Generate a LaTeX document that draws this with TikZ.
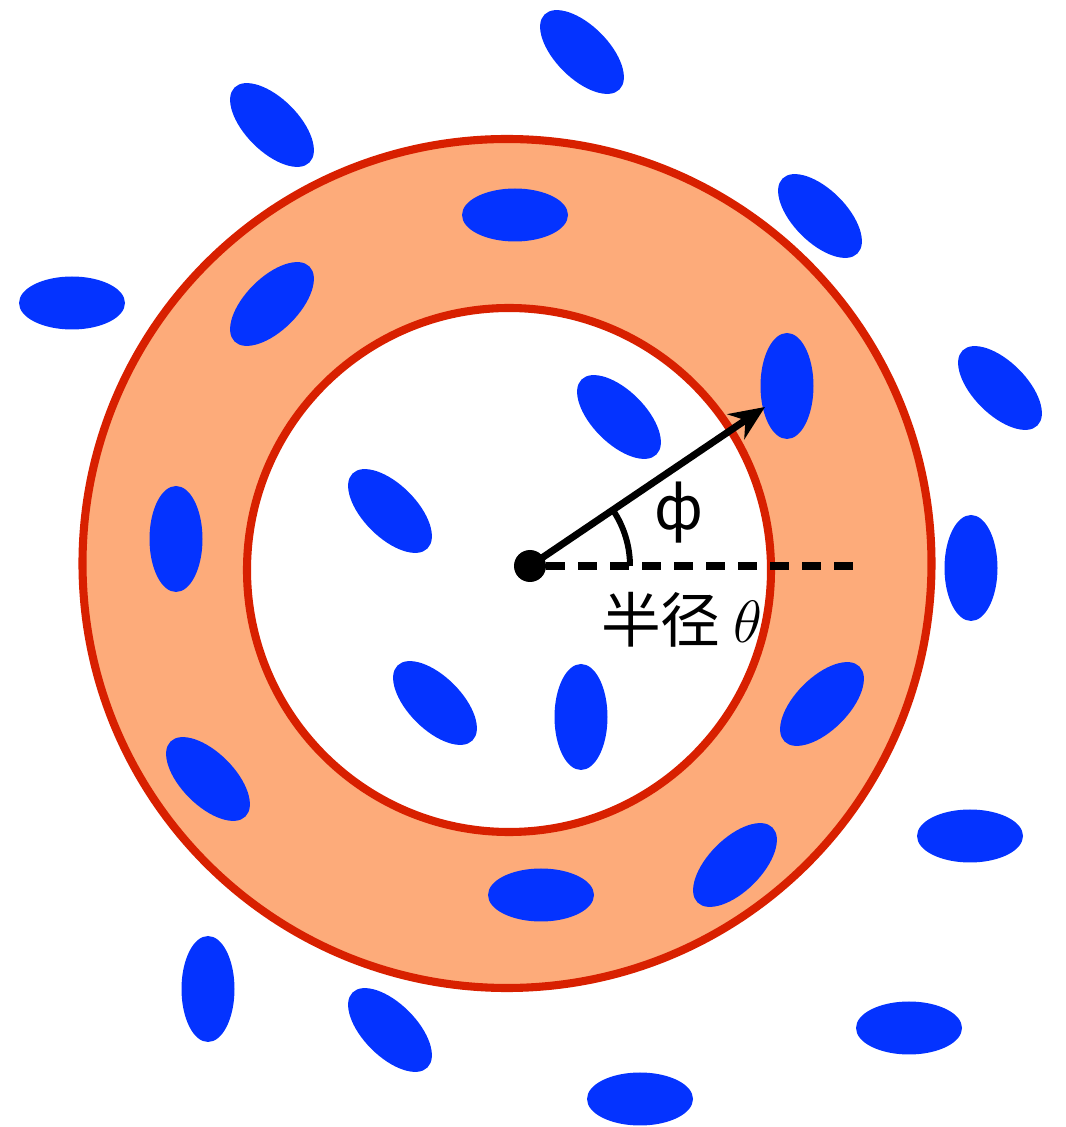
\RequirePackage{fix-cm}
\documentclass[tikz,border=0pt]{standalone}
\usepackage{fontspec}
\newfontfamily\cjk{Noto Sans CJK SC}
\usepackage{tikz}
\usetikzlibrary{arrows.meta,calc,positioning}
\definecolor{rred}{HTML}{D82000}
\definecolor{rorange}{HTML}{FDAB7A}
\definecolor{rblue}{HTML}{0433FF}
\tikzset{
  >={Stealth[length=7mm,width=6mm]},
  rring/.style={draw=rred, line width=4.6pt},
  rblob/.style={fill=rblue, draw=none},
  rdot/.style={circle, fill=black, minimum size=6.4mm, inner sep=0pt},
  rvec/.style={->, black, line width=4pt},
  rguide/.style={black, line width=4pt, dash pattern=on 3.8mm off 2.6mm},
  rarc/.style={black, line width=3.4pt},
  rlbl/.style={font=\cjk\fontsize{34}{40}\selectfont, inner sep=0pt},
}

\begin{document}
\begin{tikzpicture}[x=0.02cm,y=0.02cm]
  \useasboundingbox (0,0) rectangle (1066,1127);

  % ring
  \fill[rorange] (507,563.5) circle (424.5);
  \fill[white] (509,557) circle (262);
  \draw[rring] (507,563.5) circle (424.5);
  \draw[rring] (509,557) circle (262);

  % particles
  \foreach \x/\y/\r in {582/1075/-45, 272/1002/-45, 515/912/0, 820/911/-45,
                        72/824/0, 272/823/45, 787/741/90, 1000/739/-45,
                        619/710/-45, 390/616/-45, 176/588/90, 971/559/90,
                        435/424/-45, 581/410/90, 822/423/45, 208/348/-45,
                        970/291/0, 735/262/45, 541/232/0, 208/138/90,
                        390/97/-45, 909/99/0, 640/28/0}
  {
    \fill[rblob, rotate around={\r:(\x,\y)}] (\x,\y) ellipse (53 and 26.5);
  }

  % director and angle
  \node[rdot] (ctr) at (530,561) {};
  \coordinate (tip) at (765,720);
  \coordinate (dend) at (857,561);
  \draw[rguide] (ctr.east) -- (dend);
  \draw[rvec] (ctr.center) -- (tip);
  \draw[rarc] ($(ctr.center)+(100,0)$) arc[start angle=0, end angle=34, radius=100];

  \node[rlbl] (phi) at (679,614) {ф};
  \node[rlbl] (rad) at (682,507) {半径 $\theta$};

\end{tikzpicture}
\end{document}
